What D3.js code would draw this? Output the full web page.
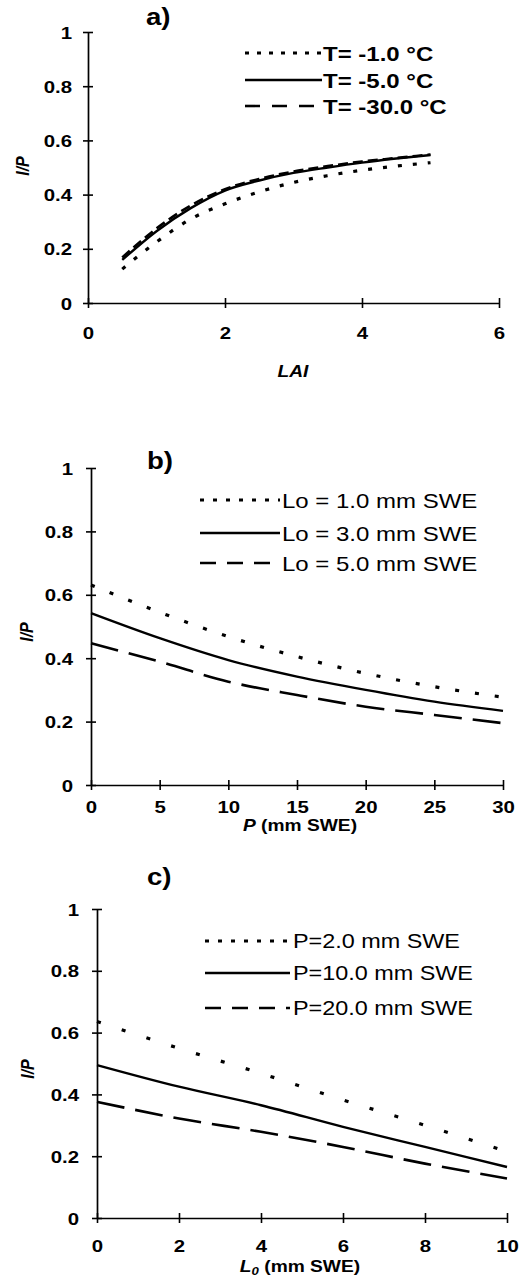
<!DOCTYPE html>
<html>
<head>
<meta charset="utf-8">
<script src="https://cdn.jsdelivr.net/npm/d3@7"></script>
<style>
  body { margin: 0; background: #fff; }
  svg text { font-family: "Liberation Sans", Arial, Helvetica, sans-serif; fill: #000; }
</style>
</head>
<body>
<svg id="chart" width="520" height="1281"></svg>
<script>
// ---- Panel a: interception fraction I/P vs leaf area index ----
const laiValues = [0.5, 1, 1.5, 2, 2.5, 3, 3.5, 4, 4.5, 5];
const ipTminus1 = [0.125, 0.225, 0.31, 0.366, 0.41, 0.445, 0.47, 0.49, 0.505, 0.518];
const ipTminus5 = [0.159, 0.265, 0.35, 0.415, 0.452, 0.48, 0.50, 0.518, 0.533, 0.546];
const ipTminus30 = [0.168, 0.275, 0.36, 0.42, 0.458, 0.485, 0.505, 0.522, 0.535, 0.548];
const legendA = ["T= -1.0 °C", "T= -5.0 °C", "T= -30.0 °C"];
const xTicksA = [0, 2, 4, 6];

// ---- Panel b: I/P vs snowfall P ----
const pValues = [0, 5, 10, 15, 20, 25, 30];
const ipLo1 = [0.631, 0.545, 0.468, 0.405, 0.352, 0.31, 0.277];
const ipLo3 = [0.542, 0.463, 0.394, 0.342, 0.30, 0.263, 0.234];
const ipLo5 = [0.447, 0.389, 0.326, 0.284, 0.247, 0.221, 0.195];
const legendB = ["Lo = 1.0 mm SWE", "Lo = 3.0 mm SWE", "Lo = 5.0 mm SWE"];
const xTicksB = [0, 5, 10, 15, 20, 25, 30];

// ---- Panel c: I/P vs initial canopy load L0 ----
const loValues = [0, 2, 4, 6, 8, 10];
const ipP2 = [0.636, 0.549, 0.468, 0.382, 0.30, 0.215];
const ipP10 = [0.495, 0.425, 0.365, 0.295, 0.23, 0.165];
const ipP20 = [0.376, 0.322, 0.279, 0.23, 0.176, 0.128];
const legendC = ["P=2.0 mm SWE", "P=10.0 mm SWE", "P=20.0 mm SWE"];
const xTicksC = [0, 2, 4, 6, 8, 10];

const yTicks = [0, 0.2, 0.4, 0.6, 0.8, 1];

// horizontal stretch applied to all lettering
const SX = 1.2;
const svg = d3.select("#chart");

const styles = {
  dot:  { width: 3.2, cap: "butt" },
  solid: { width: 2.4, cap: "butt" },
  dash: { width: 2.6, cap: "butt" }
};

function putText(g, x, y, str, opt) {
  const t = g.append("text")
    .attr("transform", `translate(${x},${y}) scale(${SX},1)` + (opt.rotate ? ` rotate(${opt.rotate})` : ""))
    .attr("text-anchor", opt.anchor || "start")
    .attr("dominant-baseline", "central")
    .attr("font-size", opt.size)
    .attr("font-weight", opt.weight || "normal")
    .attr("font-style", opt.style || "normal");
  if (typeof str === "string") {
    t.text(str);
  } else {
    str.forEach(p => {
      const s = t.append("tspan").text(p.t);
      if (p.style) s.attr("font-style", p.style);
      if (p.weight) s.attr("font-weight", p.weight);
      if (p.size) s.attr("font-size", p.size);
      if (p.dy) s.attr("dy", p.dy);
    });
  }
  return t;
}

function drawPanel(cfg) {
  const g = svg.append("g");
  const x = d3.scaleLinear().domain(cfg.xDomain).range(cfg.xRange);
  const y = d3.scaleLinear().domain([0, 1]).range(cfg.yRange);

  // y axis with ticks crossing the line
  const gy = g.append("g")
    .attr("transform", `translate(${cfg.xRange[0]},0)`)
    .call(d3.axisLeft(y).tickValues(yTicks).tickSize(5).tickSizeOuter(0)
      .tickFormat(d => d3.format("~g")(d)))
    .attr("font-size", null).attr("font-family", null);
  gy.selectAll(".tick").append("line").attr("x2", 5).attr("stroke", "#000");
  gy.selectAll("line").attr("stroke-width", 1.6);
  gy.select(".domain").attr("stroke-width", 1.7);
  gy.selectAll("text")
    .attr("x", -cfg.yLabelGap / SX)
    .attr("dy", "0.36em")
    .attr("transform", `scale(${SX},1)`)
    .attr("font-size", 17).attr("font-weight", "bold");

  // x axis with ticks crossing the line
  const gx = g.append("g")
    .attr("transform", `translate(0,${cfg.yRange[0]})`)
    .call(d3.axisBottom(x).tickValues(cfg.xTicks).tickSize(5).tickSizeOuter(0)
      .tickFormat(d => d3.format("~g")(d)))
    .attr("font-size", null).attr("font-family", null);
  gx.selectAll(".tick").append("line").attr("y2", -5).attr("stroke", "#000");
  gx.selectAll("line").attr("stroke-width", 1.6);
  gx.select(".domain").attr("stroke-width", 1.7);
  gx.selectAll("text")
    .attr("y", cfg.xLabelGap)
    .attr("dy", "0.36em")
    .attr("transform", `scale(${SX},1)`)
    .attr("font-size", 17).attr("font-weight", "bold");

  // curves
  const line = d3.line().x(d => x(d[0])).y(d => y(d[1])).curve(d3.curveMonotoneX);
  cfg.series.forEach(s => {
    const st = styles[s.kind];
    g.append("path")
      .datum(cfg.xValues.map((v, i) => [v, s.values[i]]))
      .attr("d", line)
      .attr("fill", "none")
      .attr("stroke", "#000")
      .attr("stroke-width", st.width)
      .attr("stroke-linecap", st.cap)
      .attr("stroke-dasharray", s.dash || null);
  });

  // legend
  const lg = cfg.legend;
  cfg.series.forEach((s, i) => {
    const st = styles[s.kind];
    const ly = lg.rows[i];
    g.append("line")
      .attr("x1", lg.x1).attr("x2", lg.x2)
      .attr("y1", ly).attr("y2", ly)
      .attr("stroke", "#000")
      .attr("stroke-width", st.width)
      .attr("stroke-dasharray", s.legendDash || null);
    putText(g, lg.textX, ly + 1, cfg.labels[i], { size: lg.size, weight: lg.weight });
  });

  // panel letter and axis titles
  putText(g, cfg.letter.x, cfg.letter.y, cfg.letter.t, { size: 23, weight: "bold" });
  putText(g, cfg.yTitle.x, cfg.yTitle.y, [{ t: "I/P" }],
    { size: 16, weight: "bold", style: "italic", anchor: "middle", rotate: -90 });
  putText(g, cfg.xTitle.x, cfg.xTitle.y, cfg.xTitle.parts,
    { size: 16, weight: "bold", anchor: "middle" });
}

drawPanel({
  xDomain: [0, 6], xRange: [88, 499], yRange: [303, 32],
  xTicks: xTicksA, xValues: laiValues, yLabelGap: 16, xLabelGap: 30,
  series: [
    { kind: "dot", values: ipTminus1, dash: "4,11", legendDash: "4,8" },
    { kind: "solid", values: ipTminus5 },
    { kind: "dash", values: ipTminus30, dash: "10,5", legendDash: "15,12" }
  ],
  labels: legendA,
  legend: { x1: 245, x2: 322, textX: 323, rows: [53, 80, 106], size: 20, weight: "bold" },
  letter: { x: 146, y: 17, t: "a)" },
  yTitle: { x: 22, y: 166 },
  xTitle: { x: 293, y: 372, parts: [{ t: "LAI", style: "italic" }] }
});

drawPanel({
  xDomain: [0, 30], xRange: [91, 503], yRange: [785, 468],
  xTicks: xTicksB, xValues: pValues, yLabelGap: 18, xLabelGap: 22,
  series: [
    { kind: "dot", values: ipLo1, dash: "4,16", legendDash: "4,9" },
    { kind: "solid", values: ipLo3 },
    { kind: "dash", values: ipLo5, dash: "28,11", legendDash: "16,11" }
  ],
  labels: legendB,
  legend: { x1: 200, x2: 280, textX: 282, rows: [500, 533, 563], size: 20, weight: "normal" },
  letter: { x: 147, y: 461, t: "b)" },
  yTitle: { x: 26, y: 632 },
  xTitle: { x: 300, y: 826, parts: [{ t: "P", style: "italic" }, { t: " (mm SWE)" }] }
});

drawPanel({
  xDomain: [0, 10], xRange: [97, 507], yRange: [1218, 909],
  xTicks: xTicksC, xValues: loValues, yLabelGap: 18, xLabelGap: 28,
  series: [
    { kind: "dot", values: ipP2, dash: "4,22", legendDash: "4,9" },
    { kind: "solid", values: ipP10 },
    { kind: "dash", values: ipP20, dash: "28,11", legendDash: "16,11" }
  ],
  labels: legendC,
  legend: { x1: 205, x2: 290, textX: 293, rows: [941, 973, 1008], size: 19.5, weight: "normal" },
  letter: { x: 147, y: 877, t: "c)" },
  yTitle: { x: 27, y: 1069 },
  xTitle: { x: 300, y: 1267, parts: [
    { t: "L", style: "italic" },
    { t: "0", style: "italic", size: 11, dy: "4" },
    { t: " (mm SWE)", dy: "-4" }
  ] }
});
</script>
</body>
</html>
